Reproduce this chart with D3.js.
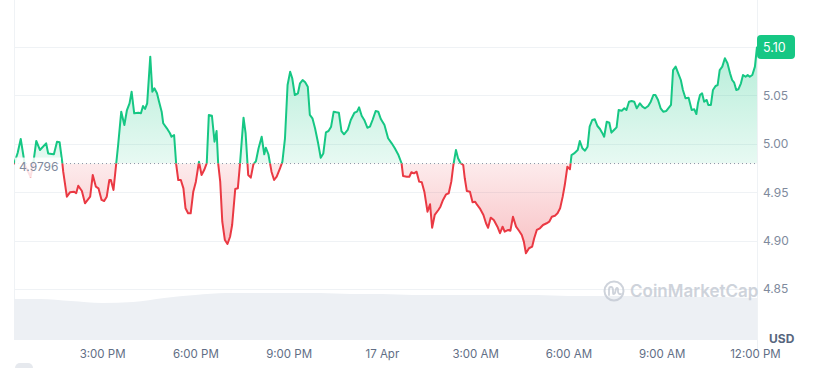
<!DOCTYPE html>
<html>
<head>
<meta charset="utf-8">
<script src="https://cdn.jsdelivr.net/npm/d3@7"></script>
<style>
  body { margin: 0; background: #fff; }
  svg { display: block; font-family: Inter, "Noto Sans", sans-serif; }
</style>
</head>
<body>
<script>
// price samples: minutes after 12:00 PM on 16 Apr, and price in USD
var minutes = [
  10,17,23,27,31,42,47,53,60,72,
  76,83,87,93,98,103,105,112,118,126,
  130,134,141,147,157,162,168,173,179,184,
  189,194,197,202,207,211,217,223,228,233,
  237,242,250,255,259,263,267,273,277,281,
  286,290,295,298,305,311,314,319,323,327,
  332,337,341,346,351,356,361,367,372,377,
  382,386,392,397,401,404,408,412,417,422,
  427,431,437,442,446,453,457,462,467,472,
  477,482,488,493,496,501,507,512,517,523,
  528,533,538,543,547,552,558,562,567,572,
  577,581,586,591,597,602,607,612,617,622,
  627,632,637,642,647,654,660,667,672,676,
  681,686,692,697,702,708,713,718,725,732,
  739,745,752,758,761,768,773,777,782,787,
  792,797,802,808,813,817,822,829,833,838,
  844,849,854,858,863,867,872,877,880,884,
  890,895,900,904,909,916,921,925,930,936,
  943,948,953,957,964,968,973,979,985,990,
  994,998,1004,1010,1014,1019,1025,1031,1038,1043,
  1048,1054,1059,1064,1069,1073,1078,1083,1086,1091,
  1098,1102,1107,1112,1117,1121,1126,1131,1136,1141,
  1145,1149,1154,1159,1163,1168,1173,1177,1183,1188,
  1192,1197,1202,1207,1212,1218,1223,1228,1234,1239,
  1244,1248,1253,1258,1263,1269,1278,1282,1287,1292,
  1297,1301,1306,1312,1318,1323,1327,1330,1334,1338,
  1342,1347,1350,1355,1359,1364,1368,1372,1377,1382,
  1387,1392,1396,1400,1404,1408,1413,1417,1422,1426,
  1430,1435,1440,1444
];
var prices = [
  4.979,4.9905,5.005,4.9915,4.978,4.966,4.979,5.003,4.9936,5.0005,
  4.990,4.9895,4.9892,5.0022,5.0016,4.9815,4.9712,4.9454,4.9499,4.9505,
  4.9489,4.9567,4.9512,4.9385,4.9454,4.9678,4.9557,4.954,4.942,4.9409,
  4.9454,4.9626,4.9626,4.9523,4.9781,4.9988,5.0332,5.0194,5.0349,5.0418,
  5.0538,5.0315,5.0321,5.0315,5.0391,5.036,5.0418,5.090,5.0538,5.0573,
  5.0522,5.0435,5.0332,5.0212,5.016,5.0109,5.0073,5.0091,4.979,4.9626,
  4.9626,4.954,4.9334,4.9282,4.9282,4.9505,4.9609,4.9815,4.9678,4.9729,
  4.9799,5.0298,5.029,5.0022,5.0132,4.9799,4.9609,4.9195,4.9006,4.8965,
  4.904,4.9161,4.9533,4.954,4.9781,5.027,5.0109,4.9678,4.965,4.9788,
  4.9822,4.9954,5.0073,4.9892,4.996,4.9892,4.9712,4.9626,4.966,4.974,
  4.9815,5.0057,5.0607,5.0745,5.0677,5.0504,5.0522,5.0625,5.0659,5.0635,
  5.059,5.0298,5.0263,5.016,5.0005,4.9856,4.990,5.0119,5.0132,5.0177,
  5.0332,5.0325,5.0321,5.0132,5.0098,5.0143,5.0246,5.0321,5.0332,5.0377,
  5.029,5.0246,5.0166,5.0177,5.0246,5.0339,5.0332,5.0256,5.0194,5.0057,
  5.0005,4.9954,4.9884,4.9799,4.9667,4.966,4.966,4.9706,4.9695,4.9712,
  4.9609,4.9602,4.9505,4.9299,4.9375,4.9133,4.9265,4.9316,4.935,4.942,
  4.9478,4.9489,4.9609,4.9781,4.9936,4.985,4.9799,4.9781,4.9644,4.9512,
  4.9505,4.9396,4.9402,4.9368,4.9334,4.9265,4.9179,4.9133,4.9237,4.9213,
  4.9144,4.9076,4.9144,4.9092,4.911,4.9102,4.9247,4.9144,4.9099,4.9058,
  4.8989,4.8869,4.8921,4.8937,4.9024,4.911,4.9127,4.9161,4.9179,4.9195,
  4.9247,4.9257,4.9282,4.9334,4.9454,4.9574,4.9763,4.9737,4.9884,4.990,
  4.9936,5.0029,4.9954,4.9929,4.997,5.0177,5.0246,5.0253,5.0184,5.0153,
  5.0115,5.0073,5.0228,5.0218,5.0115,5.0143,5.017,5.0349,5.0342,5.0367,
  5.0349,5.0435,5.0442,5.0435,5.0367,5.0418,5.0383,5.0367,5.0391,5.0435,
  5.0504,5.0504,5.0453,5.0367,5.0332,5.0339,5.0401,5.0762,5.0797,5.0728,
  5.0659,5.0556,5.047,5.0476,5.0349,5.0356,5.0308,5.0418,5.0504,5.0522,
  5.0435,5.0453,5.0401,5.0401,5.0556,5.0597,5.0607,5.0762,5.0797,5.0883,
  5.0832,5.0728,5.0659,5.0631,5.0556,5.0563,5.0625,5.0711,5.0693,5.0711,
  5.0693,5.0711,5.0797,5.1003
];

// hourly volume (relative units) for the grey band at the bottom
var volMinutes = [0,60,120,180,240,300,360,420,480,540,600,660,720,780,840,900,960,1020,1080,1140,1200,1260,1320,1380,1440,1444];
var volumes = [41,41,39,37,38,42,45,47,47,47,47,46,46,45,45,45,45,45,44,44,44,44,43,43,42,42];

var openPrice = 4.9796;
var lastPrice = 5.10;
var yTicks = [4.85, 4.90, 4.95, 5.00, 5.05, 5.10];
var xTickMinutes = [180, 360, 540, 720, 900, 1080, 1260, 1440];
var xTickLabels = ["3:00 PM", "6:00 PM", "9:00 PM", "17 Apr", "3:00 AM", "6:00 AM", "9:00 AM", "12:00 PM"];

var green = "#16c784", red = "#ea3943";
var W = 815, H = 368;
var left = 14, right = 757, plotBottom = 340;

var t0 = new Date(2024, 3, 16, 12, 0);
function toDate(m) { return new Date(t0.getTime() + m * 60000); }

var data = minutes.map(function(m, i) { return { t: toDate(m), p: prices[i] }; });
var volData = volMinutes.map(function(m, i) { return { t: toDate(m), v: volumes[i] }; });

// scales
var x = d3.scaleTime()
  .domain([toDate(10), toDate(1444)])
  .range([left, right]);
var y = d3.scaleLinear().domain([4.85, 5.10]).range([289, 47]);
var yVol = d3.scaleLinear().domain([0, 50]).range([plotBottom, plotBottom - 50]);
var baseY = y(openPrice);

var svg = d3.select("body").append("svg").attr("width", W).attr("height", H);
var defs = svg.append("defs");

// gradients for the two fills
var gUp = defs.append("linearGradient").attr("id", "gradUp")
  .attr("gradientUnits", "userSpaceOnUse")
  .attr("x1", 0).attr("x2", 0).attr("y1", y(5.10)).attr("y2", baseY);
gUp.append("stop").attr("offset", 0).attr("stop-color", green).attr("stop-opacity", 0.32);
gUp.append("stop").attr("offset", 1).attr("stop-color", green).attr("stop-opacity", 0.1);

var gDown = defs.append("linearGradient").attr("id", "gradDown")
  .attr("gradientUnits", "userSpaceOnUse")
  .attr("x1", 0).attr("x2", 0).attr("y1", baseY).attr("y2", y(4.885));
gDown.append("stop").attr("offset", 0).attr("stop-color", red).attr("stop-opacity", 0.1);
gDown.append("stop").attr("offset", 1).attr("stop-color", red).attr("stop-opacity", 0.32);

defs.append("clipPath").attr("id", "clipUp")
  .append("rect").attr("x", left).attr("y", 0).attr("width", right - left).attr("height", baseY);
defs.append("clipPath").attr("id", "clipDown")
  .append("rect").attr("x", left).attr("y", baseY).attr("width", right - left).attr("height", H - baseY);
defs.append("clipPath").attr("id", "clipPlot")
  .append("rect").attr("x", left).attr("y", 0).attr("width", right - left).attr("height", H);

// grid lines
svg.append("g")
  .selectAll("line")
  .data(yTicks)
  .enter()
  .append("line")
  .attr("x1", left).attr("x2", right)
  .attr("y1", function(d) { return Math.round(y(d)) + 0.5; })
  .attr("y2", function(d) { return Math.round(y(d)) + 0.5; })
  .attr("stroke", "#eff2f5");
svg.append("line").attr("x1", left + 0.5).attr("x2", left + 0.5).attr("y1", 0).attr("y2", plotBottom)
  .attr("stroke", "#eff2f5");
svg.append("line").attr("x1", right + 0.5).attr("x2", right + 0.5).attr("y1", 0).attr("y2", 350)
  .attr("stroke", "#eff2f5");

// volume band
svg.append("path")
  .datum(volData)
  .attr("clip-path", "url(#clipPlot)")
  .attr("fill", "#edf0f4")
  .attr("d", d3.area().curve(d3.curveMonotoneX)
    .x(function(d) { return x(d.t); })
    .y0(plotBottom)
    .y1(function(d) { return yVol(d.v); }));

// watermark
var wm = svg.append("g").attr("transform", "translate(614,291)").attr("opacity", 0.8);
wm.append("circle").attr("r", 9.5).attr("fill", "none").attr("stroke", "#c3c9d3").attr("stroke-width", 2);
wm.append("path")
  .attr("d", "M-5,4 L-5,-1.5 Q-5,-4 -3,-4 Q-1,-4 -1,-1 L-1,2 Q-1,4 1,2 L2,-2 Q3,-4 4,-2 L4,1 Q5,4 7,3")
  .attr("fill", "none").attr("stroke", "#c3c9d3").attr("stroke-width", 1.8)
  .attr("stroke-linecap", "round").attr("stroke-linejoin", "round");
wm.append("text").attr("x", 16).attr("y", 6)
  .attr("font-size", 17).attr("font-weight", 600).attr("fill", "#c3c9d3")
  .text("CoinMarketCap");

// filled areas above / below the open price
var area = d3.area()
  .x(function(d) { return x(d.t); })
  .y0(baseY)
  .y1(function(d) { return y(d.p); });
svg.append("path").datum(data).attr("clip-path", "url(#clipUp)")
  .attr("fill", "url(#gradUp)").attr("d", area);
svg.append("path").datum(data).attr("clip-path", "url(#clipDown)")
  .attr("fill", "url(#gradDown)").attr("d", area);

// open price dotted line
svg.append("line")
  .attr("x1", left).attr("x2", right)
  .attr("y1", baseY).attr("y2", baseY)
  .attr("stroke", "#8a93a5").attr("stroke-width", 1)
  .attr("stroke-dasharray", "1,3");

// price line, green above / red below
var valueline = d3.line()
  .x(function(d) { return x(d.t); })
  .y(function(d) { return y(d.p); });
svg.append("path").datum(data).attr("clip-path", "url(#clipUp)")
  .attr("fill", "none").attr("stroke", green).attr("stroke-width", 2)
  .attr("stroke-linejoin", "round").attr("d", valueline);
svg.append("path").datum(data).attr("clip-path", "url(#clipDown)")
  .attr("fill", "none").attr("stroke", red).attr("stroke-width", 2)
  .attr("stroke-linejoin", "round").attr("d", valueline);

// open price label, on a see-through white box
svg.append("rect").attr("x", 15).attr("y", baseY - 6).attr("width", 46).attr("height", 20)
  .attr("fill", "#fff").attr("opacity", 0.85);
svg.append("text").attr("x", 19).attr("y", baseY + 7.5)
  .attr("font-size", 12).attr("fill", "#808a9d")
  .text(d3.format(".4f")(openPrice));

// y axis labels (top one is covered by the price tag)
svg.append("g")
  .attr("transform", "translate(" + (right + 6) + ",0)")
  .call(d3.axisRight(y).tickValues(yTicks.slice(0, -1)).tickSize(0).tickPadding(0)
    .tickFormat(d3.format(".2f")))
  .call(function(g) { g.select(".domain").remove(); })
  .selectAll("text")
  .attr("font-family", "Inter, sans-serif")
  .attr("font-size", 12)
  .attr("fill", "#808a9d");

svg.append("text").attr("x", 769).attr("y", 343)
  .attr("font-size", 12).attr("font-weight", 700).attr("fill", "#58667e")
  .text("USD");

// current price tag
svg.append("rect").attr("x", right).attr("y", y(lastPrice) - 12).attr("width", 38).attr("height", 24)
  .attr("rx", 4).attr("fill", green);
svg.append("text").attr("x", right + 6).attr("y", y(lastPrice) + 4.5)
  .attr("font-size", 12.5).attr("fill", "#fff")
  .text(d3.format(".2f")(lastPrice));

// x axis labels
svg.append("g")
  .attr("transform", "translate(0," + plotBottom + ")")
  .call(d3.axisBottom(x).tickValues(xTickMinutes.map(toDate)).tickSize(0).tickPadding(10)
    .tickFormat(function(d, i) { return xTickLabels[i]; }))
  .call(function(g) { g.select(".domain").remove(); })
  .selectAll("text")
  .attr("font-family", "Inter, sans-serif")
  .attr("font-size", 11.5)
  .attr("fill", "#616e85");

// bit of the control peeking in at the bottom left
svg.append("rect").attr("x", 15).attr("y", 363).attr("width", 18).attr("height", 12)
  .attr("rx", 5).attr("fill", "#e6e9ee");
</script>
</body>
</html>
